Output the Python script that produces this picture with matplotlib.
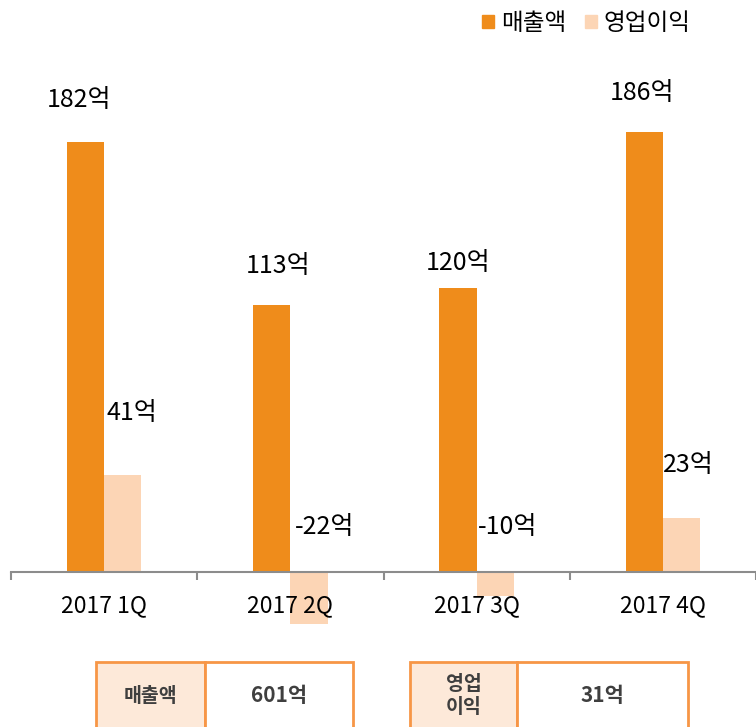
import matplotlib
matplotlib.use("Agg")
import matplotlib.pyplot as plt
import numpy as np
from matplotlib.patches import Rectangle, Patch

plt.rcParams['font.family'] = ['Noto Sans CJK KR', 'DejaVu Sans']

# data
quarters = ['2017 1Q', '2017 2Q', '2017 3Q', '2017 4Q']
sales = [182, 113, 120, 186]
op_profit = [41, -22, -10, 23]
series_names = ['매출액', '영업이익']
sales_labels = ['182억', '113억', '120억', '186억']
profit_labels = ['41억', '-22억', '-10억', '23억']
summary_heads = ['매출액', '영업\n이익']
summary_vals = ['601억', '31억']

# hand placed label anchors (data units)
sales_lab_x = [-0.133, 0.936, 1.899, 2.888]
sales_lab_y = [199.7, 129.5, 130.8, 202.7]
profit_lab_x = [0.149, 1.181, 2.165, 3.138]
profit_lab_y = [67.3, 19.0, 19.0, 45.3]

c_sales = '#EF8C1B'
c_profit = '#FCD5B5'
c_border = '#F79646'
c_head = '#FDE9D9'

fig = plt.figure(figsize=(7.56, 7.27), dpi=100)
ax = fig.add_axes([11 / 756, 67 / 727, 1 - 11 / 756, 620 / 727])

x = np.arange(len(quarters))
w = 0.2
ax.bar(x - w / 2, sales, w, color=c_sales, label=series_names[0])
ax.bar(x + w / 2, op_profit, w, color=c_profit, label=series_names[1])

ax.set_xlim(-0.5, 3.469)
ax.set_ylim(-37.24, 225.1)

for s in ['top', 'right', 'left']:
    ax.spines[s].set_visible(False)
ax.spines['bottom'].set_position(('data', 0))
ax.spines['bottom'].set_color('#8C8C8C')
ax.spines['bottom'].set_linewidth(1.5)
ax.set_yticks([])

ax.set_xticks(np.arange(-0.5, 4, 1))
ax.set_xticklabels([])
ax.tick_params(axis='x', which='major', direction='out', length=6, width=1.5, color='#8C8C8C')
ax.set_xticks(x, minor=True)
ax.set_xticklabels(quarters, minor=True, fontsize=16.5)
ax.tick_params(axis='x', which='minor', length=0, pad=16)

for i in range(len(quarters)):
    ax.text(sales_lab_x[i], sales_lab_y[i], sales_labels[i], ha='center', va='center', fontsize=18)
    ax.text(profit_lab_x[i], profit_lab_y[i], profit_labels[i], ha='center', va='center', fontsize=18)

handles = [Patch(color=c_sales), Patch(color=c_profit)]
fig.legend(handles, series_names, loc='center right', bbox_to_anchor=(0.942, 0.968),
           ncol=2, frameon=False, fontsize=17, handlelength=0.5, handleheight=0.5,
           handletextpad=0.3, columnspacing=0.8)

# summary boxes at the bottom
W, H = 756, 727
boxes = [(96, 205, 353), (410, 517, 688)]
top_px = 662
for (l, m, r), head, val in zip(boxes, summary_heads, summary_vals):
    y0 = -0.1
    y1 = (H - top_px) / H
    fig.add_artist(Rectangle((l / W, y0), (m - l) / W, y1 - y0, transform=fig.transFigure,
                             facecolor=c_head, edgecolor=c_border, linewidth=2))
    fig.add_artist(Rectangle((m / W, y0), (r - m) / W, y1 - y0, transform=fig.transFigure,
                             facecolor='white', edgecolor=c_border, linewidth=2))
    yc = (H - 696) / H
    fig.text((l + m) / 2 / W, yc, head, ha='center', va='center', fontsize=14,
             fontweight='bold', color='#3F3F3F', linespacing=1.25)
    fig.text((m + r) / 2 / W, yc, val, ha='center', va='center', fontsize=15,
             fontweight='bold', color='#3F3F3F')

fig.savefig('out.png', dpi=100)
